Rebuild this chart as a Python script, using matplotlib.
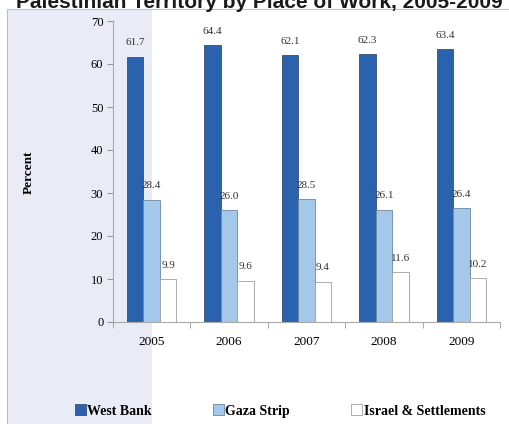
import numpy as np
import matplotlib.pyplot as plt
from matplotlib.patches import Rectangle, Patch
from matplotlib.lines import Line2D

years = ["2005", "2006", "2007", "2008", "2009"]
west_bank = [61.7, 64.4, 62.1, 62.3, 63.4]
gaza_strip = [28.4, 26.0, 28.5, 26.1, 26.4]
israel = [9.9, 9.6, 9.4, 11.6, 10.2]
series_names = ["West Bank", "Gaza Strip", "Israel & Settlements"]

serif = "Liberation Serif"

fig = plt.figure(figsize=(5.10, 4.24), dpi=100)
W, H = 510, 424

# lavender panel on the left and slide borders
fig.patches.append(Rectangle((7 / W, 0), 145 / W, 1 - 9 / H, transform=fig.transFigure,
                             facecolor="#e9ecf6", edgecolor="none", zorder=0))
fig.add_artist(Line2D([7 / W, 7 / W], [0, 1 - 9 / H], transform=fig.transFigure,
                      color="#b8bcc8", lw=0.8, zorder=1))
fig.add_artist(Line2D([7 / W, 1], [1 - 9 / H, 1 - 9 / H], transform=fig.transFigure,
                      color="#c0c4cc", lw=0.8, zorder=1))

# clipped title from the slide
fig.text(16 / W, 1 - 8 / H, "Palestinian Territory by Place of Work, 2005-2009",
         fontsize=15, fontweight="bold", family="Liberation Sans",
         va="baseline", ha="left", color="#1a1a1a")

ax = fig.add_axes([113 / W, 1 - 322 / H, 387 / W, 301 / H])
ax.set_zorder(3)
ax.patch.set_alpha(0)

x = np.arange(len(years))
w = 0.213
cols = ["#2a62ae", "#a3c8ea", "#ffffff"]
edges = ["#3a4f70", "#6f88a0", "#a0a0a0"]
for i, vals in enumerate([west_bank, gaza_strip, israel]):
    pos = x + (i - 1) * w
    ax.bar(pos, vals, width=w, color=cols[i], edgecolor=edges[i], linewidth=0.6,
           label=series_names[i])
    for p, v in zip(pos, vals):
        ax.text(p, v + 2.2, f"{v:.1f}", ha="center", va="bottom",
                fontsize=8, family=serif, color="#333333")

ax.set_xlim(-0.5, 4.5)
ax.set_ylim(0, 70)
ax.set_yticks(range(0, 71, 10))
ax.set_xticks(x)
ax.set_xticklabels(years, family=serif, fontsize=9.5)
ax.set_xticks(np.arange(-0.5, 5.0, 1.0), minor=True)
ax.tick_params(axis="x", which="major", length=0, pad=10)
ax.tick_params(axis="x", which="minor", length=4, color="#999999")
ax.tick_params(axis="y", length=4, color="#999999", pad=3)
for lab in ax.get_yticklabels():
    lab.set_family(serif)
    lab.set_fontsize(9)
for s in ["top", "right"]:
    ax.spines[s].set_visible(False)
for s in ["left", "bottom"]:
    ax.spines[s].set_color("#aaaaaa")
    ax.spines[s].set_linewidth(0.8)

fig.text(29 / W, 1 - 172 / H, "Percent", rotation=90, ha="center", va="center",
         family=serif, fontweight="bold", fontsize=9.5)

handles = [Patch(facecolor=cols[i], edgecolor=edges[i], linewidth=0.6) for i in range(3)]
fig.legend(handles, series_names, loc="center", bbox_to_anchor=(280 / W, 1 - 411 / H),
           ncol=3, frameon=False, handlelength=0.8, handleheight=0.8, handletextpad=0.1,
           columnspacing=4.4, prop={"family": serif, "weight": "bold", "size": 10})

fig.savefig("out.png", dpi=100)
